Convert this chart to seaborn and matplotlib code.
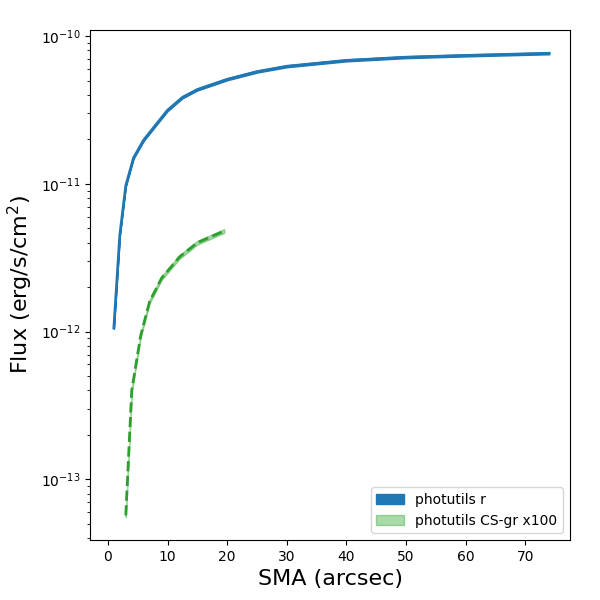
import numpy as np
import pandas as pd
import matplotlib
matplotlib.use('Agg')
import matplotlib.pyplot as plt
import seaborn as sns

# Data
sma_r = [1, 2, 3, 4.3, 6, 8, 10, 12.5, 15, 20, 25, 30, 40, 50, 60, 74]
flux_r = [1.06e-12, 4.5e-12, 9.7e-12, 1.5e-11, 1.98e-11, 2.5e-11, 3.15e-11, 3.85e-11,
          4.35e-11, 5.1e-11, 5.75e-11, 6.25e-11, 6.85e-11, 7.2e-11, 7.4e-11, 7.65e-11]
sma_g = [3, 4, 5.5, 7, 9, 12, 15, 19.5]
flux_g = [5.7e-14, 4.0e-13, 9.4e-13, 1.6e-12, 2.3e-12, 3.2e-12, 4.0e-12, 4.8e-12]

dr = pd.DataFrame({'sma': sma_r, 'flux': flux_r})
dg = pd.DataFrame({'sma': sma_g, 'flux': flux_g})

fig, ax = plt.subplots(figsize=(6, 6), dpi=100)

ax.fill_between(dr.sma, dr.flux * 0.985, dr.flux * 1.015, color='#1f77b4', label='photutils r')
sns.lineplot(data=dr, x='sma', y='flux', ax=ax, color='#1f77b4', linewidth=2)
ax.fill_between(dg.sma, dg.flux * 0.97, dg.flux * 1.03, color='#2ca02c', alpha=0.4,
                label='photutils CS-gr x100')
sns.lineplot(data=dg, x='sma', y='flux', ax=ax, color='#2ca02c', linewidth=2, linestyle='--')

ax.set_yscale('log')
ax.set_xlim(-3, 77.5)
ax.set_ylim(10**-13.41, 1.1e-10)
ax.set_xlabel('SMA (arcsec)', fontsize=16)
ax.set_ylabel('Flux (erg/s/cm$^2$)', fontsize=16)
ax.legend(loc='lower right')

plt.subplots_adjust(left=0.15, right=0.95, top=0.95, bottom=0.1)
plt.savefig('out.png')
